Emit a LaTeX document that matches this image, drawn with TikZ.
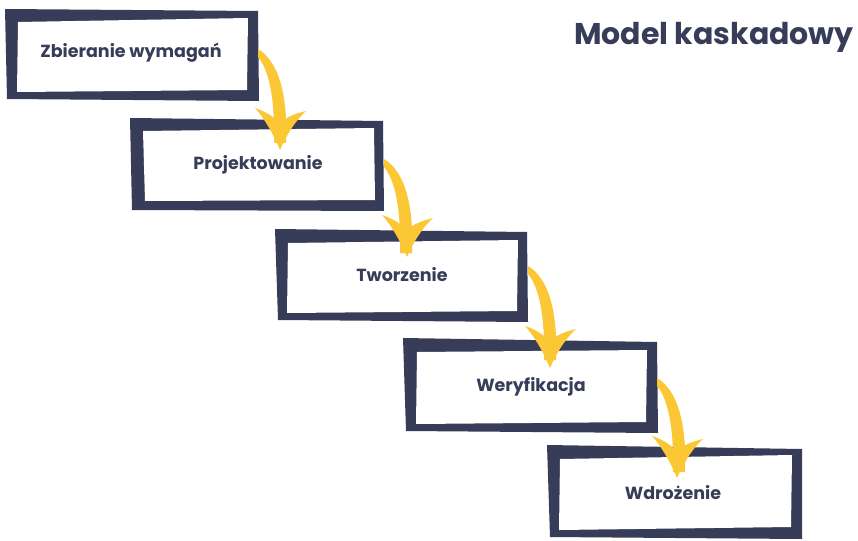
\documentclass[tikz,border=0pt]{standalone}
\usepackage{fontspec}
\setmainfont{Poppins}
\usetikzlibrary{calc}
\definecolor{navy}{RGB}{55,61,89}
\definecolor{gold}{RGB}{251,199,52}
\tikzset{
  frameouter/.style={fill=navy},
  frameinner/.style={fill=white},
  label/.style={text=navy,font=\bfseries\fontsize{17.5}{19}\selectfont,inner sep=0pt},
  titlelabel/.style={text=navy,font=\bfseries\fontsize{30}{34}\selectfont,inner sep=0pt},
  arrowfill/.style={fill=gold}
}
\newcommand{\stepframe}[8]{%
  \fill[frameouter] #1 -- #2 -- #3 -- #4 -- cycle;
  \fill[frameinner] #5 -- #6 -- #7 -- #8 -- cycle;}
\newcommand{\goldarrow}[2]{%
  \begin{scope}[shift={(#1)}]
    \fill[arrowfill] (0,-4) .. controls (20,8) and (30,40) .. (28,90) -- (16,90)
      .. controls (17,45) and (11,17) .. (0,4) -- cycle;
  \end{scope}
  \begin{scope}[shift={(#2)}]
    \fill[arrowfill] (0,0) .. controls (-5,-12) and (-14,-30) .. (-25,-42)
      .. controls (-13,-38) and (-6,-33) .. (0,-26)
      .. controls (6,-33) and (14,-36) .. (26,-39)
      .. controls (14,-28) and (5,-12) .. (0,0) -- cycle;
  \end{scope}}
\begin{document}
\begin{tikzpicture}[x=1pt,y=-1pt]
\useasboundingbox (0,0) rectangle (858,540);
\fill[white] (0,0) rectangle (858,540);
% frames
\stepframe{(5,9)}{(258,11)}{(259,101)}{(7,99)}{(18,22)}{(248,18)}{(247,90)}{(17,92)}
\stepframe{(130,118)}{(383,121)}{(384,211)}{(132,210)}{(143,131)}{(374,128)}{(375,200)}{(145,201)}
\stepframe{(275,229)}{(527,232)}{(528,322)}{(278,320)}{(288,243)}{(518,240)}{(517,311)}{(287,313)}
\stepframe{(403,338)}{(657,342)}{(658,433)}{(406,431)}{(417,352)}{(647,350)}{(646,422)}{(416,424)}
\stepframe{(547,445)}{(802,449)}{(802,539)}{(550,537)}{(560,459)}{(792,455)}{(791,527)}{(559,530)}
% labels
\node[label] (b1) at (131,53) {Zbieranie wymagań};
\node[label] (b2) at (258,165) {Projektowanie};
\node[label] (b3) at (402,275) {Tworzenie};
\node[label] (b4) at (531,387) {Weryfikacja};
\node[label] (b5) at (673,493) {Wdrożenie};
\node[titlelabel] (title) at (714,37) {Model kaskadowy};
% arrow ends
\coordinate (s1) at (258,53);  \coordinate (t1) at (280,150);
\coordinate (s2) at (384,163); \coordinate (t2) at (407,257);
\coordinate (s3) at (528,270); \coordinate (t3) at (550,368);
\coordinate (s4) at (657,382); \coordinate (t4) at (677,478);
\goldarrow{s1}{t1}
\goldarrow{s2}{t2}
\goldarrow{s3}{t3}
\goldarrow{s4}{t4}
\end{tikzpicture}
\end{document}
